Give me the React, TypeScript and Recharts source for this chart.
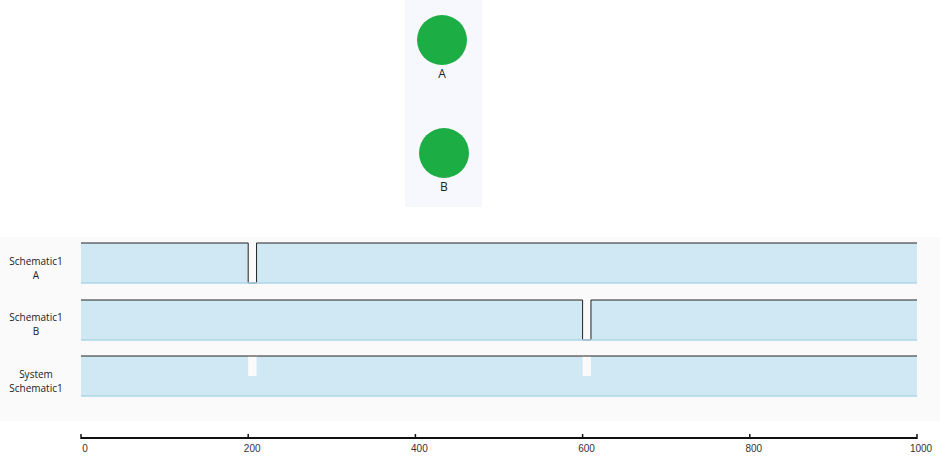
import React from 'react';
import { AreaChart, Area, ComposedChart, Line, XAxis, YAxis, ReferenceLine, ScatterChart, Scatter, LineChart } from 'recharts';

// node diagram (panel coordinates)
const nodeNames = ['A', 'B'];
const nodeX = [37, 39];
const nodeY = [40, 153];

// timelines
const timeTicks = [0, 200, 400, 600, 800, 1000];
const rowATimes = [0, 200, 210, 1000];
const rowAValues = [1, 0, 1, 1];
const rowBTimes = [0, 600, 610, 1000];
const rowBValues = [1, 0, 1, 1];
const systemTimes = [0, 200, 210, 600, 610, 1000];
const systemValues = [1, 0.5, 1, 0.5, 1, 1];
const systemTop = [1, 1, 1, 1, 1, 1];

const rowLabels = [['Schematic1', 'A'], ['Schematic1', 'B'], ['System', 'Schematic1']];

const FILL = '#cfe8f3';
const BASE = '#aed6ea';
const INK = '#222';
const W = 940;

const nodes = nodeNames.map((name, i) => ({ name, x: nodeX[i], y: nodeY[i] }));
const build = (ts: number[], vs: number[], tops?: number[]) =>
  ts.map((t, i) => ({ t, v: vs[i], top: tops ? tops[i] : undefined }));

const NodeShape = (props: any) => {
  const { cx, cy, payload } = props;
  return (
    <g>
      <circle cx={cx} cy={cy} r={25} fill="#1cae44" />
      <text x={cx} y={cy + 38} textAnchor="middle" fontSize={12} fill="#222" fontFamily="Open Sans">
        {payload.name}
      </text>
    </g>
  );
};

const TimeTick = (props: any) => {
  const { x, y, payload } = props;
  return (
    <g>
      <line x1={x} x2={x} y1={y - 4} y2={y + 1} stroke="#111" strokeWidth={1.5} />
      <text x={x + 4} y={y + 14} textAnchor="middle" fontSize={10} fill="#333" fontFamily="Liberation Sans">
        {payload.value}
      </text>
    </g>
  );
};

const rowMargin = { top: 5, right: 23, bottom: 5, left: 81 };

function StepRow({ data, top }: { data: any[]; top: number }) {
  return (
    <div style={{ position: 'absolute', left: 0, top }}>
      <AreaChart width={W} height={50} data={data} margin={rowMargin}>
        <XAxis dataKey="t" type="number" domain={[0, 1000]} hide />
        <YAxis type="number" domain={[0, 1]} hide />
        <ReferenceLine y={0} stroke={BASE} strokeWidth={1.5} />
        <Area type="stepAfter" dataKey="v" stroke={INK} strokeWidth={1} fill={FILL} fillOpacity={1} isAnimationActive={false} />
      </AreaChart>
    </div>
  );
}

export default function App() {
  const rowA = build(rowATimes, rowAValues);
  const rowB = build(rowBTimes, rowBValues);
  const system = build(systemTimes, systemValues, systemTop);
  const labelTops = [254, 310, 367];

  return (
    <div style={{ position: 'absolute', left: 0, top: 0, width: W, height: 460, background: '#fff', fontFamily: 'Open Sans' }}>
      <div style={{ position: 'absolute', left: 405, top: 0, width: 77, height: 207, background: '#f7f8fe' }}>
        <ScatterChart width={77} height={207} margin={{ top: 0, right: 0, bottom: 0, left: 0 }}>
          <XAxis dataKey="x" type="number" domain={[0, 77]} hide />
          <YAxis dataKey="y" type="number" domain={[0, 207]} reversed hide />
          <Scatter data={nodes} shape={NodeShape} isAnimationActive={false} />
        </ScatterChart>
      </div>

      <div style={{ position: 'absolute', left: 0, top: 237, width: W, height: 184, background: '#fafafa' }} />

      {rowLabels.map((lines, i) => (
        <div
          key={i}
          style={{ position: 'absolute', left: 0, top: labelTops[i], width: 72, textAlign: 'center', fontSize: 10, lineHeight: '14px', color: '#222' }}
        >
          {lines[0]}
          <br />
          {lines[1]}
        </div>
      ))}

      <StepRow data={rowA} top={238} />
      <StepRow data={rowB} top={295} />

      <div style={{ position: 'absolute', left: 0, top: 351 }}>
        <ComposedChart width={W} height={50} data={system} margin={rowMargin}>
          <XAxis dataKey="t" type="number" domain={[0, 1000]} hide />
          <YAxis type="number" domain={[0, 1]} hide />
          <ReferenceLine y={0} stroke={BASE} strokeWidth={1.5} />
          <Area type="stepAfter" dataKey="v" stroke="none" fill={FILL} fillOpacity={1} isAnimationActive={false} />
          <Line type="linear" dataKey="top" stroke={INK} strokeWidth={1} dot={false} isAnimationActive={false} />
        </ComposedChart>
      </div>

      <div style={{ position: 'absolute', left: 0, top: 420 }}>
        <LineChart width={W} height={40} data={timeTicks.map((t) => ({ t }))} margin={{ top: 0, right: 23, bottom: 0, left: 81 }}>
          <XAxis
            dataKey="t"
            type="number"
            domain={[0, 1000]}
            ticks={timeTicks}
            height={22}
            axisLine={{ stroke: '#111', strokeWidth: 2 }}
            tickLine={false}
            tickSize={0}
            tickMargin={0}
            tick={TimeTick}
            interval={0}
          />
        </LineChart>
      </div>
    </div>
  );
}
